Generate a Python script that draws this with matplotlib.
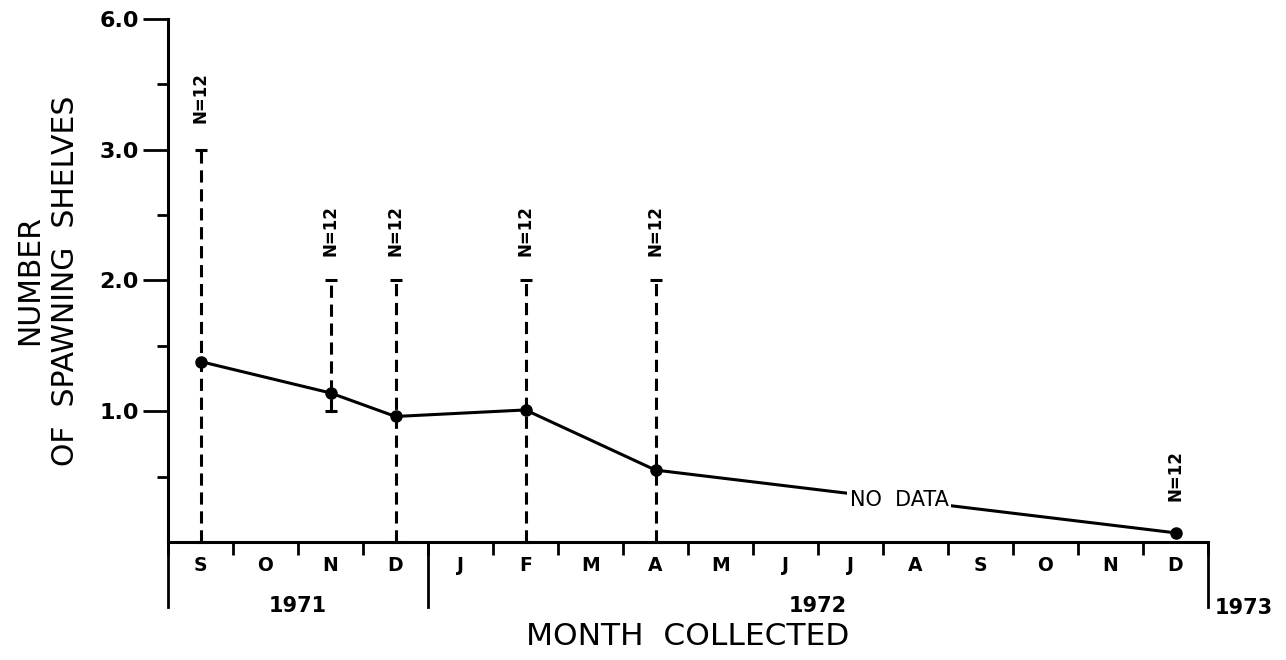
import matplotlib
matplotlib.use("Agg")
import matplotlib.pyplot as plt
import matplotlib.transforms as mtransforms
import numpy as np

# month axis, Sep 1971 .. Dec 1972
months = ['S', 'O', 'N', 'D', 'J', 'F', 'M', 'A', 'M', 'J', 'J', 'A', 'S', 'O', 'N', 'D']
years = ['1971', '1972', '1973']
year_start = [0, 4, 16]          # month index where each year starts

# sampled months (index into months) and mean number of spawning shelves
sample_idx = [0, 2, 3, 5, 7, 15]
mean_val = [1.38, 1.14, 0.96, 1.01, 0.55, 0.07]
# range bars (only for first five samples)
range_lo = [0.0, 1.0, 0.0, 0.0, 0.0]
range_hi = [3.0, 2.0, 2.0, 2.0, 2.0]
n_label = ['N=12', 'N=12', 'N=12', 'N=12', 'N=12', 'N=12']
n_label_y = [4.2, 2.38, 2.38, 2.38, 2.38, 0.51]


# y axis is compressed above 3.0
def fwd(y):
    y = np.asarray(y, dtype=float)
    return np.where(y <= 3, y, 3 + (y - 3) / 3.0)


def inv(z):
    z = np.asarray(z, dtype=float)
    return np.where(z <= 3, z, 3 + (z - 3) * 3.0)


plt.rcParams['font.family'] = ['DejaVu Sans']

fig = plt.figure(figsize=(12.86, 6.6), dpi=100)
ax = fig.add_axes([168 / 1286, 1 - 542 / 660, 1040 / 1286, 523 / 660])
ax.set_yscale('function', functions=(fwd, inv))
ax.set_ylim(0, 6)
ax.set_xlim(-0.5, len(months) - 0.5)

# mean line
ax.plot(sample_idx, mean_val, color='black', lw=2.2, marker='o', ms=8,
        zorder=3, clip_on=False)

# range bars (dashed)
xs = sample_idx[:len(range_lo)]
ms = mean_val[:len(range_lo)]
yerr = [np.array(ms) - np.array(range_lo), np.array(range_hi) - np.array(ms)]
eb = ax.errorbar(xs, ms, yerr=yerr, fmt='none', ecolor='black', elinewidth=2.2,
                 capsize=4, capthick=2.2, zorder=2)
for lc in eb[2]:
    lc.set_linestyle((0, (4, 2.2)))
    lc.set_clip_on(False)
for cap in eb[1]:
    cap.set_clip_on(False)

# N=12 labels
for xi, lab, ly in zip(sample_idx, n_label, n_label_y):
    ax.text(xi, ly, lab, rotation=90, ha='center', va='center',
            fontsize=12, fontweight='bold')

# NO DATA label sitting on the line between A and D
nd_x = 10.75
nd_y = np.interp(nd_x, [sample_idx[4], sample_idx[5]], [mean_val[4], mean_val[5]])
ax.text(nd_x, nd_y, 'NO  DATA', ha='center', va='center', fontsize=15,
        bbox=dict(facecolor='white', edgecolor='none', pad=2), zorder=4)

# spines
for s in ['top', 'right']:
    ax.spines[s].set_visible(False)
ax.spines['left'].set_linewidth(2.2)
ax.spines['bottom'].set_linewidth(2.2)

# y ticks
ax.set_yticks([1, 2, 3, 6])
ax.set_yticklabels(['1.0', '2.0', '3.0', '6.0'])
ax.set_yticks([0.5, 1.5, 2.5, 4.5], minor=True)
ax.tick_params(axis='y', which='major', length=18, width=2, labelsize=16, pad=3)
ax.tick_params(axis='y', which='minor', length=8, width=2)
for t in ax.get_yticklabels():
    t.set_fontweight('bold')

# x ticks: marks at month boundaries, labels at month centres
ax.set_xticks(np.arange(len(months) + 1) - 0.5)
ax.set_xticklabels([])
ax.set_xticks(np.arange(len(months)), minor=True)
ax.set_xticklabels(months, minor=True)
ax.tick_params(axis='x', which='major', length=9, width=2, direction='out')
ax.tick_params(axis='x', which='minor', length=0, labelsize=13.5, pad=10)
for t in ax.get_xticklabels(minor=True):
    t.set_fontweight('bold')

# year separators and labels
trans = mtransforms.blended_transform_factory(ax.transData, ax.transAxes)
for b in year_start:
    ax.plot([b - 0.5, b - 0.5], [0, -0.125], color='black', lw=2,
            transform=trans, clip_on=False)
for i, yr in enumerate(years):
    if i + 1 < len(year_start):
        xc = (year_start[i] + year_start[i + 1]) / 2 - 0.5
        ax.text(xc, -0.122, yr, transform=trans, ha='center', va='center',
                fontsize=15, fontweight='bold')
    else:
        ax.text(year_start[i] - 0.4, -0.127, yr, transform=trans, ha='left',
                va='center', fontsize=15, fontweight='bold')

ax.set_xlabel('MONTH  COLLECTED', fontsize=22.5, labelpad=34)
ax.set_ylabel('NUMBER\nOF  SPAWNING  SHELVES', fontsize=21.5, labelpad=14,
              linespacing=1.3)

fig.savefig('out.png', dpi=100)
